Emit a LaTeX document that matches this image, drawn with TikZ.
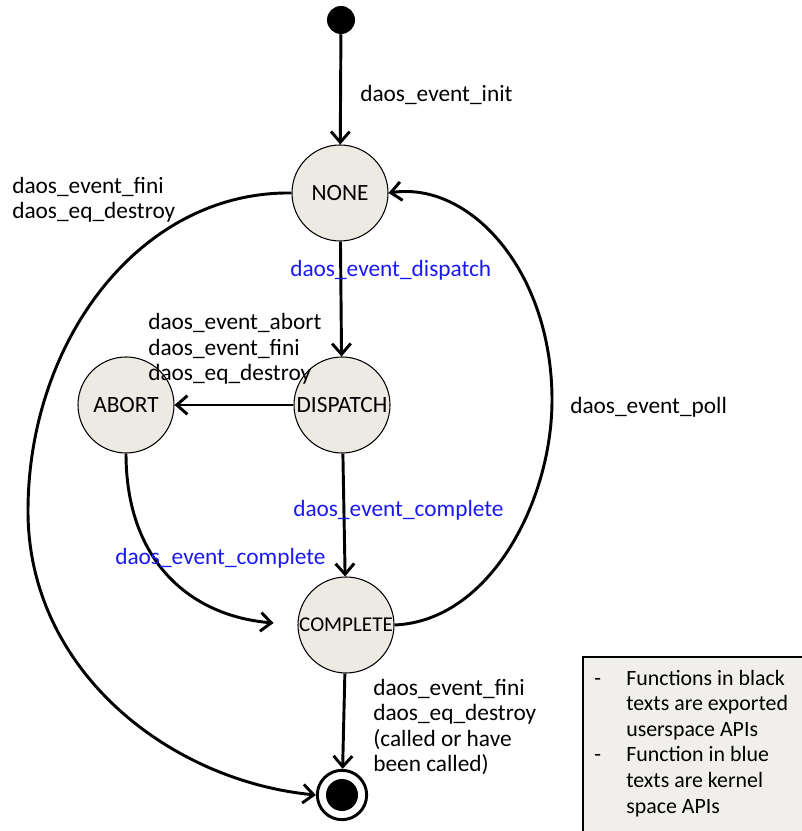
\documentclass[tikz,border=0pt]{standalone}
\usepackage{fontspec}
\setmainfont{Carlito}
\usetikzlibrary{arrows.meta}
\definecolor{statefill}{RGB}{237,234,228}
\definecolor{notefill}{RGB}{241,239,235}
\definecolor{kernelblue}{RGB}{25,25,245}
\begin{document}
\begin{tikzpicture}[x=0.75pt,y=0.75pt,
    state/.style={circle,draw,line width=0.8pt,fill=statefill,minimum size=72pt,inner sep=0pt,font=\fontsize{17.5}{20}\selectfont},
    trans/.style={line width=2.2pt,-{Straight Barb[length=8pt,width=14pt,line width=2.2pt]}},
    api/.style={anchor=west,align=left,inner sep=0pt,font=\fontsize{17.5}{19}\selectfont},
    kapi/.style={api,text=kernelblue}]
    \useasboundingbox (0,0) rectangle (801,831);
    \node[circle,fill=black,minimum size=21pt,inner sep=0pt] (init) at (341,811) {};
    \node[state] (none) at (340,638) {NONE};
    \node[state] (dispatch) at (342,426) {DISPATCH};
    \node[state] (abort) at (126,426) {ABORT};
    \node[state,font=\fontsize{15.8}{18}\selectfont] (complete) at (346,206) {COMPLETE};
    \node[circle,draw,fill=white,line width=2.2pt,minimum size=37pt,inner sep=0pt] (final) at (342,36) {};
    \node[circle,fill=black,minimum size=24pt,inner sep=0pt] at (final) {};
    \draw[trans] (init) -- (none);
    \draw[trans] (none) -- (dispatch);
    \draw[trans] (dispatch) -- (abort);
    \draw[trans] (dispatch) -- (complete);
    \draw[trans] (complete) -- (final);
    \draw[trans,shorten >=18] (abort.south) .. controls (126,270) and (190,215) .. (complete.west);
    \draw[trans] (complete.east) .. controls (490,210) and (552,330) .. (552,431)
        .. controls (552,560) and (470,650) .. (none.east);
    \draw[trans] (none.west) .. controls (140,640) and (28,490) .. (28,320)
        .. controls (28,160) and (170,50) .. (final.west);
    \node[api] (l-init) at (360,736) {daos\_event\_init};
    \node[api] (l-fini) at (12,631) {daos\_event\_fini\\daos\_eq\_destroy};
    \node[kapi] (l-dispatch) at (290,561) {daos\_event\_dispatch};
    \node[api] (l-abort) at (148,482) {daos\_event\_abort\\daos\_event\_fini\\daos\_eq\_destroy};
    \node[kapi] (l-done) at (293,321) {daos\_event\_complete};
    \node[kapi] (l-adone) at (115,273) {daos\_event\_complete};
    \node[api] (l-poll) at (570,424) {daos\_event\_poll};
    \node[api] (l-end) at (373,104) {daos\_event\_fini\\daos\_eq\_destroy\\(called or have\\been called)};
    \draw[fill=notefill,line width=0.8pt] (583,-5) rectangle (806,174);
    \node[api,font=\fontsize{16.4}{19.2}\selectfont] (legend) at (594,87) {\begin{tabular}{@{}l@{\hspace{19pt}}l@{}}
        - & Functions in black\\ & texts are exported\\ & userspace APIs\\
        - & Function in blue\\ & texts are kernel\\ & space APIs\end{tabular}};
\end{tikzpicture}
\end{document}
